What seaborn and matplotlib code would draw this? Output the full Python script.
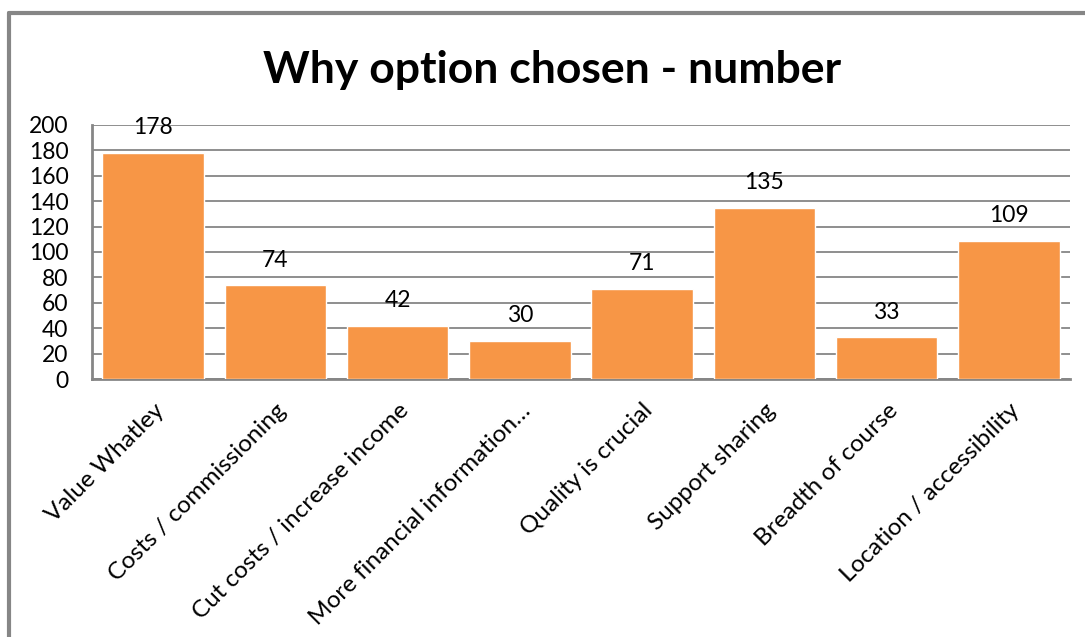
import matplotlib
matplotlib.use("Agg")
import matplotlib.pyplot as plt
import pandas as pd
import seaborn as sns
from matplotlib.lines import Line2D

categories = ["Value Whatley", "Costs / commissioning", "Cut costs / increase income",
              "More financial information\u2026", "Quality is crucial", "Support sharing",
              "Breadth of course", "Location / accessibility"]
counts = [178, 74, 42, 30, 71, 135, 33, 109]
y_ticks = [0, 20, 40, 60, 80, 100, 120, 140, 160, 180, 200]

sns.set_style("white")
plt.rcParams['font.family'] = ['Lato', 'DejaVu Sans']
plt.rcParams['text.color'] = 'black'
plt.rcParams['xtick.color'] = 'black'
plt.rcParams['ytick.color'] = 'black'

df = pd.DataFrame({"reason": categories, "count": counts})

fig = plt.figure(figsize=(10.85, 6.37), dpi=100)
ax = fig.add_axes([0.0848, 0.405, 0.9014, 0.3988])

sns.barplot(data=df, x="reason", y="count", color="#F79646", saturation=1,
            width=0.83, ax=ax, zorder=3)

ax.set_ylim(0, 200)
ax.set_xlim(-0.5, len(categories) - 0.5)
ax.set_yticks(y_ticks)
ax.set_yticklabels([str(t) for t in y_ticks], fontsize=16.5)
ax.yaxis.grid(True, color="#868686", linewidth=1.3, zorder=0)
ax.set_axisbelow(True)
ax.tick_params(axis="both", length=0)
ax.tick_params(axis="y", pad=17)

ax.set_xticks(range(len(categories)))
ax.set_xticklabels(categories, rotation=45, ha="right", rotation_mode="anchor", fontsize=17.5)
ax.tick_params(axis="x", pad=15)
ax.set_xlabel("")
ax.set_ylabel("")

for side in ["top", "right"]:
    ax.spines[side].set_visible(False)
for side in ["left", "bottom"]:
    ax.spines[side].set_color("#868686")
    ax.spines[side].set_linewidth(2)

for i, v in enumerate(counts):
    ax.annotate(str(v), (i, v), xytext=(0, 18), textcoords="offset points",
                ha="center", va="center", fontsize=16.5)

fig.suptitle("Why option chosen - number", fontsize=32, fontweight="bold", x=0.509, y=0.922)

# chart area border (only top and left visible in the original)
fig.add_artist(Line2D([0.0083, 1.0], [0.9795, 0.9795], color="#868686", linewidth=3,
                      transform=fig.transFigure))
fig.add_artist(Line2D([0.0083, 0.0083], [0.0, 0.9795], color="#868686", linewidth=3,
                      transform=fig.transFigure))

fig.savefig("out.png", dpi=100)
